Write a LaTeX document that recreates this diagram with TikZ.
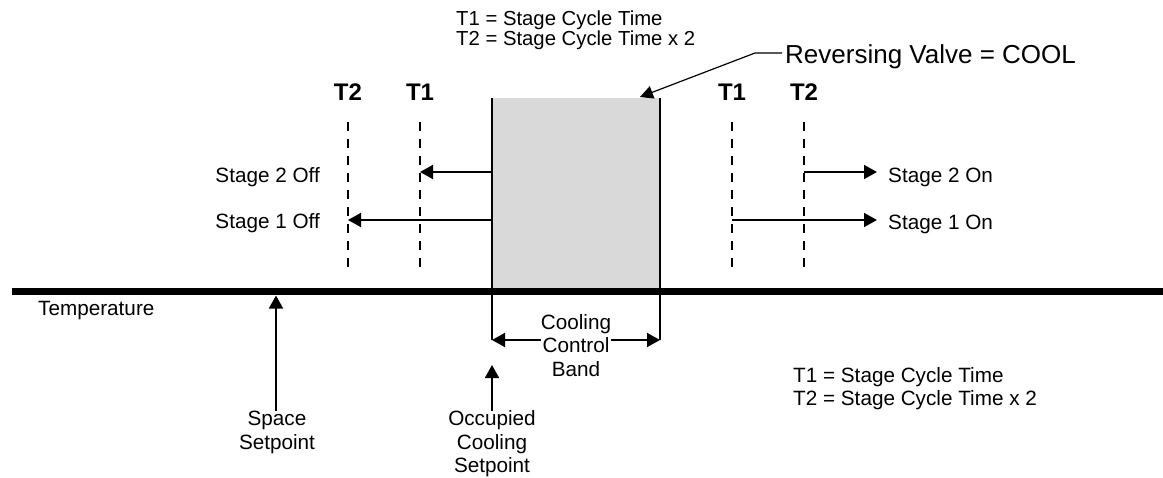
\documentclass[tikz,border=0pt]{standalone}
\usepackage{fontspec}
\setmainfont{Liberation Sans}
\usetikzlibrary{arrows.meta}
\definecolor{boxgray}{RGB}{217,217,217}
\newcommand\mytightlines{\lineskiplimit=-20pt\relax\lineskip=0pt\relax}
\tikzset{
  lbl/.style={inner sep=0pt, font=\fontsize{20.7}{23.5}\selectfont},
  tight/.style={inner sep=0pt, font=\fontsize{20.3}{19.8}\selectfont\mytightlines},
  big/.style={inner sep=0pt, font=\fontsize{26}{30}\selectfont},
  tlbl/.style={inner sep=0pt, font=\fontsize{24}{28}\selectfont\bfseries},
  arr/.style={line width=1.8pt, -{Triangle[length=13pt,width=14pt]}},
  thin/.style={line width=1.8pt},
  dashline/.style={line width=2pt, dash pattern=on 9pt off 8pt},
}
\begin{document}
\begin{tikzpicture}[x=1pt,y=-1pt]
\useasboundingbox (0,0) rectangle (1163,477);

% gray band box
\fill[boxgray] (492,98) rectangle (660,292);
\coordinate (bl) at (492,98);
\coordinate (br) at (660,98);
\coordinate (bandL) at (492,340);
\coordinate (bandR) at (660,340);
\draw[thin] (bl) -- (bandL);
\draw[thin] (br) -- (bandR);

% temperature axis
\coordinate (axL) at (12,291.5);
\coordinate (axR) at (1163,291.5);
\draw[line width=7pt] (axL) -- (axR);

% top legend
\node[tight, align=left, anchor=north west] (top) at (456,10.5) {T1 = Stage Cycle Time\\T2 = Stage Cycle Time x 2};

% reversing valve label and leader
\node[big, anchor=base west] (rv) at (785,63) {Reversing Valve = COOL};
\coordinate (rvstart) at (782,53);
\coordinate (rvknee) at (755,53);
\coordinate (rvtip) at (640,97);
\draw[line width=1.2pt, -{Triangle[length=13pt,width=13pt]}] (rvstart) -- (rvknee) -- (rvtip);

% T labels
\node[tlbl, anchor=base] (t2l) at (348,100) {T2};
\node[tlbl, anchor=base] (t1l) at (420,100) {T1};
\node[tlbl, anchor=base] (t1r) at (732,100) {T1};
\node[tlbl, anchor=base] (t2r) at (804,100) {T2};

% dashed time lines
\coordinate (d1a) at (348,122); \coordinate (d1b) at (348,267);
\coordinate (d2a) at (420,122); \coordinate (d2b) at (420,267);
\coordinate (d3a) at (732,122); \coordinate (d3b) at (732,267);
\coordinate (d4a) at (804,122); \coordinate (d4b) at (804,267);
\draw[dashline] (d1a) -- (d1b);
\draw[dashline] (d2a) -- (d2b);
\draw[dashline] (d3a) -- (d3b);
\draw[dashline] (d4a) -- (d4b);

% stage arrows
\coordinate (s2offS) at (492,172); \coordinate (s2offE) at (420,172);
\coordinate (s1offS) at (492,220); \coordinate (s1offE) at (348,220);
\coordinate (s2onS) at (804,172); \coordinate (s2onE) at (877,172);
\coordinate (s1onS) at (732,220); \coordinate (s1onE) at (877,220);
\draw[arr] (s2offS) -- (s2offE);
\draw[arr] (s1offS) -- (s1offE);
\draw[arr] (s2onS) -- (s2onE);
\draw[arr] (s1onS) -- (s1onE);

\node[lbl, anchor=base east] (s2off) at (320,182) {Stage 2 Off};
\node[lbl, anchor=base east] (s1off) at (320,228) {Stage 1 Off};
\node[lbl, anchor=base west] (s2on) at (888,182) {Stage 2 On};
\node[lbl, anchor=base west] (s1on) at (888,229) {Stage 1 On};

% temperature label
\node[lbl, anchor=base west] (temp) at (38,315) {Temperature};

% cooling control band
\node[lbl, align=center] (band) at (576,345.5) {Cooling\\Control\\Band};
\draw[arr] (band.west |- bandL) -- (bandL);
\draw[arr] (band.east |- bandR) -- (bandR);

% space setpoint
\node[lbl, align=center] (spsp) at (277,432.5) {Space\\Setpoint};
\coordinate (spTip) at (276,295.5);
\draw[arr] (spsp.north -| spTip) -- (spTip);

% occupied cooling setpoint
\node[lbl, align=center] (occ) at (492,444) {Occupied\\Cooling\\Setpoint};
\coordinate (occTip) at (492,365);
\draw[arr] (occ.north -| occTip) -- (occTip);

% bottom legend
\node[lbl, align=left, anchor=north west] (bot) at (793,367) {T1 = Stage Cycle Time\\T2 = Stage Cycle Time x 2};
\end{tikzpicture}
\end{document}
